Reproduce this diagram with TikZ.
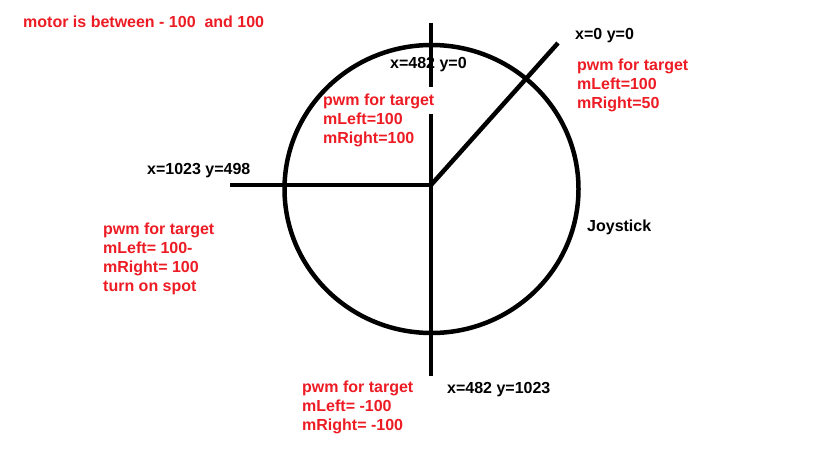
\documentclass[tikz,border=0pt]{standalone}
\usepackage{fontspec}
\setmainfont{Liberation Sans}
\usetikzlibrary{positioning}
\definecolor{paintred}{RGB}{237,28,36}

\begin{document}
\begin{tikzpicture}[
    x=1pt, y=-1pt,
    stick/.style={line width=4.5pt, black},
    coordlabel/.style={font=\fontsize{16}{19}\selectfont\bfseries, text=black,
        inner sep=0pt, anchor=west},
    pwmnote/.style={font=\fontsize{16}{19}\selectfont\bfseries, text=paintred,
        inner sep=0pt, anchor=west, align=left},
]
\useasboundingbox (0,0) rectangle (819,460);

% ===================== TITLE =====================
\node[pwmnote] (range) at (23,22) {motor is between - 100\ \ and 100};

% ===================== JOYSTICK =====================
\draw[stick] (431.5,189) ellipse [x radius=147pt, y radius=144pt];

\coordinate (centre) at (431,185);
\coordinate (top) at (431,23);
\coordinate (topgap) at (431,87);
\coordinate (belowgap) at (431,114);
\coordinate (bottom) at (431,376);
\coordinate (leftend) at (230,185);
\coordinate (corner) at (558,43);

% axes, the upper one broken behind the note
\draw[stick] (top) -- (topgap);
\draw[stick] (belowgap) -- (bottom);
\draw[stick] (leftend) -- (centre);
\draw[stick] (centre) -- (corner);

% ===================== POSITIONS =====================
\node[coordlabel] (up) at (390,65) {x=482 y=0};
\node[coordlabel] (origin) at (575,36) {x=0 y=0};
\node[coordlabel] (left) at (147,171) {x=1023 y=498};
\node[coordlabel] (down) at (447,390) {x=482 y=1023};
\node[coordlabel] (joy) at (587,227) {Joystick};

% ===================== PWM TARGETS =====================
\node[pwmnote] (fwd) at (323,120) {pwm for target\\mLeft=100\\mRight=100};
\node[pwmnote] (fwdright) at (577,85) {pwm for target\\mLeft=100\\mRight=50};
\node[pwmnote] (spin) at (103,259) {pwm for target\\mLeft= 100-\\mRight= 100\\turn on spot};
\node[pwmnote] (back) at (302,407) {pwm for target\\mLeft= -100\\mRight= -100};

\end{tikzpicture}
\end{document}
